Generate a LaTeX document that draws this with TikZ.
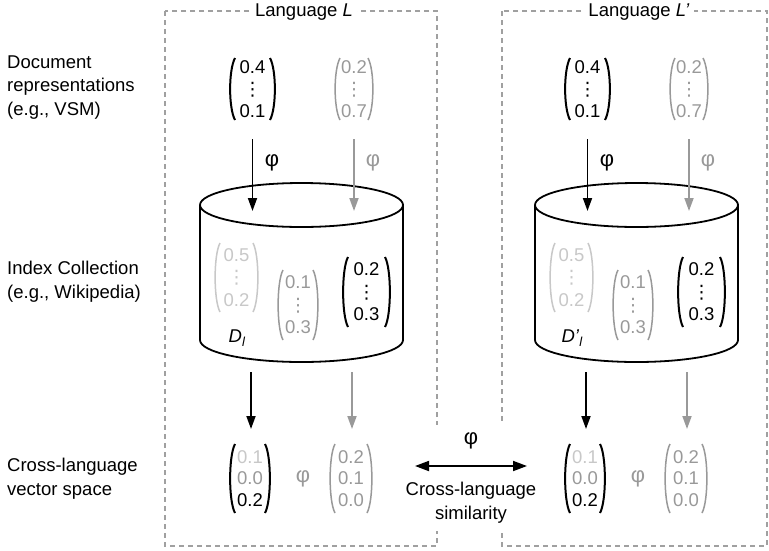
\documentclass[tikz,border=0pt]{standalone}
\usepackage{fontspec}
\setmainfont{Liberation Sans}
\newfontfamily\dvs{DejaVu Sans}
\usetikzlibrary{arrows.meta}
\definecolor{mgray}{HTML}{999999}
\definecolor{lgray}{HTML}{C8C8C8}
\definecolor{boxgray}{HTML}{A0A0A0}
\newcommand\vd{{\dvs ⋮}}
\newcommand\vbrk[6]{%
  \draw[draw=#5, line width=#6pt] ({#1-#3+5},{#2-#4}) .. controls ({#1-#3-1.5},{#2-#4+12}) and ({#1-#3-1.5},{#2+#4-12}) .. ({#1-#3+5},{#2+#4});
  \draw[draw=#5, line width=#6pt] ({#1+#3-5},{#2-#4}) .. controls ({#1+#3+1.5},{#2-#4+12}) and ({#1+#3+1.5},{#2+#4-12}) .. ({#1+#3-5},{#2+#4});
}
\newcommand\langblock[3]{%
\begin{scope}[xshift=#2pt]
  \fill[white] (200,205) -- (200,340) arc[start angle=180,end angle=360,x radius=101.5pt,y radius=22pt] -- (403,205) -- cycle;
  \draw[cyl] (200,205) -- (200,340) arc[start angle=180,end angle=360,x radius=101.5pt,y radius=22pt] -- (403,205);
  \draw[cyl] (301.5,205) ellipse [x radius=101.5pt, y radius=22pt];
  % top vectors
  \node[vnum] (#1a) at (252.5,89) {0.4\\\vd\\0.1};
  \vbrk{252.5}{89}{22.5}{31}{black}{2}
  \node[vnum, text=mgray] (#1b) at (354,89) {0.2\\\vd\\0.7};
  \vbrk{354}{89}{19}{31}{mgray}{1.5}
  \coordinate (#1as) at (252.5,139); \coordinate (#1ae) at (252.5,211);
  \coordinate (#1bs) at (354,139); \coordinate (#1be) at (354,211);
  \draw[arr] (#1as) -- (#1ae);
  \draw[arr, draw=mgray, fill=mgray] (#1bs) -- (#1be);
  \node[phil] (#1p1) at (272,163) {φ};
  \node[phil, text=mgray] (#1p2) at (373,163) {φ};
  % index collection vectors
  \node[vnum, text=lgray, font=\fontsize{18.5}{22.5}\selectfont] (#1c) at (236.5,277.5) {0.5\\\vd\\0.2};
  \vbrk{236.5}{277.5}{21.5}{34.5}{lgray}{1.5}
  \node[vnum, text=mgray, font=\fontsize{18.5}{22.5}\selectfont] (#1d) at (298,305) {0.1\\\vd\\0.3};
  \vbrk{298}{305}{20}{35}{mgray}{1.5}
  \node[vnum, font=\fontsize{18.5}{22.5}\selectfont] (#1e) at (366.5,292) {0.2\\\vd\\0.3};
  \vbrk{366.5}{292}{23.5}{35}{black}{2}
  \node[lbl, anchor=center] (#1D) at (237,338) {#3};
  % bottom arrows
  \coordinate (#1cs) at (251,372); \coordinate (#1ce) at (251,429);
  \coordinate (#1ds) at (352,372); \coordinate (#1de) at (352,429);
  \draw[arr] (#1cs) -- (#1ce);
  \draw[arr, draw=mgray, fill=mgray] (#1ds) -- (#1de);
  % bottom vectors
  \node[vnum, font=\fontsize{18.5}{21.5}\selectfont] (#1f) at (250,478.5) {\textcolor{lgray}{0.1}\\\textcolor{mgray}{0.0}\\0.2};
  \vbrk{250}{478.5}{20}{34.5}{black}{2}
  \node[phil, text=mgray] (#1p3) at (303,479) {φ};
  \node[vnum, text=mgray, font=\fontsize{18.5}{21.5}\selectfont] (#1g) at (351,478.5) {0.2\\0.1\\0.0};
  \vbrk{351}{478.5}{21}{34.5}{mgray}{1.5}
\end{scope}}
\begin{document}
\begin{tikzpicture}[x=1pt,y=-1pt,
  lbl/.style={font=\fontsize{18.5}{23.5}\selectfont, inner sep=0pt},
  vnum/.style={font=\fontsize{18.5}{22}\selectfont, inner sep=0pt, align=center},
  arr/.style={line width=1.8pt, -{Triangle[length=13pt,width=9pt]}},
  dbox/.style={draw=boxgray, line width=1.2pt, dash pattern=on 5pt off 4pt},
  cyl/.style={draw=black, line width=1.8pt, fill=white},
  phil/.style={font=\fontsize{22}{24}\selectfont, inner sep=0pt}]
\useasboundingbox (0,0) rectangle (769,550);
\fill[white] (0,0) rectangle (769,550);
% language boxes
\draw[dbox] (165,11) rectangle (437,546);
\draw[dbox] (502,11) rectangle (767,546);
\node[lbl, fill=white, inner xsep=4pt] (tL) at (304,12) {Language \textit{L}};
\node[lbl, fill=white, inner xsep=4pt] (tR) at (639,12) {Language \textit{L’}};
% row labels
\node[lbl, anchor=west, align=left] (doc) at (7,87.5) {Document\\representations\\(e.g., VSM)};
\node[lbl, anchor=west, align=left] (idx) at (7,281.5) {Index Collection\\(e.g., Wikipedia)};
\node[lbl, anchor=west, align=left] (cls) at (7,478.5) {Cross-language\\vector space};
% blocks
\langblock{L}{0}{\textit{D}\raisebox{-0.35ex}{\fontsize{13}{13}\selectfont\textit{l}}}
\langblock{R}{335}{\textit{D’}\raisebox{-0.35ex}{\fontsize{13}{13}\selectfont\textit{l}}}
% cross-language similarity
\fill[white] (398,425) rectangle (545,531);
\node[phil] (phim) at (471,441) {φ};
\coordinate (sl) at (415,466);
\coordinate (sr) at (527,466);
\draw[line width=1.8pt, {Triangle[length=14pt,width=10pt]}-{Triangle[length=14pt,width=10pt]}] (sl) -- (sr);
\node[lbl, align=center] (sim) at (471,502.5) {Cross-language\\similarity};
\end{tikzpicture}
\end{document}
